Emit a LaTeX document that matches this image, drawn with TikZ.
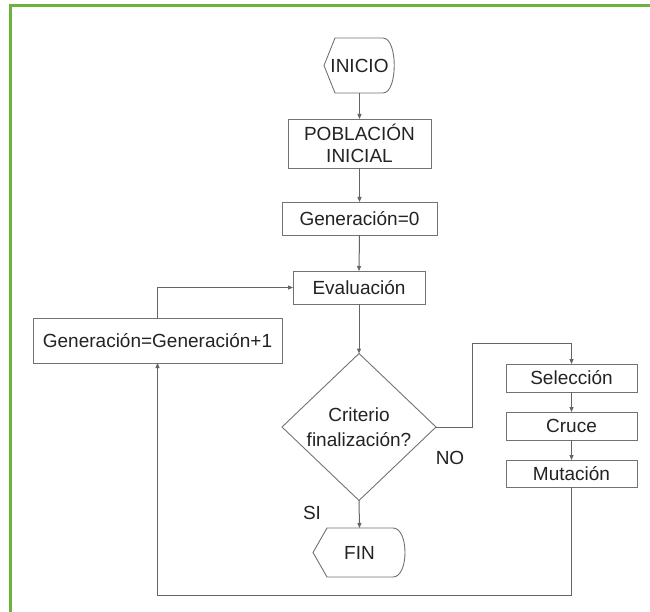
\documentclass[tikz,border=0pt]{standalone}
\usepackage{fontspec}
\setmainfont{Liberation Sans}
\usetikzlibrary{shapes.geometric,arrows.meta}

\definecolor{framegreen}{RGB}{108,178,62}
\definecolor{linegray}{RGB}{100,100,100}
\definecolor{boxgray}{RGB}{115,115,115}
\definecolor{textdark}{RGB}{35,35,35}

\tikzset{
  every node/.style={font=\fontsize{19}{22}\selectfont, text=textdark},
  procbox/.style={draw=boxgray, line width=0.9pt, rectangle, inner sep=0pt, outer sep=0pt, align=center},
  terminal/.style={inner sep=0pt, outer sep=0pt},
  shapeline/.style={draw=boxgray, line width=0.9pt},
  decision/.style={draw=boxgray, line width=0.9pt, diamond, inner sep=0pt, outer sep=0pt,
    minimum width=154pt, minimum height=147pt, aspect=1.05, align=center,
    font=\fontsize{19}{25}\selectfont},
  flow/.style={draw=linegray, line width=1pt, -{Triangle[length=5pt,width=4pt]}},
  lbl/.style={inner sep=0pt}
}

\begin{document}
\begin{tikzpicture}[x=1pt,y=-1pt]
  \useasboundingbox (0,0) rectangle (650,612);
  \fill[white] (0,0) rectangle (650,612);

  % outer frame (top and left edges)
  \draw[framegreen, line width=2.2pt] (10.5,612) -- (10.5,5.5) -- (650,5.5);

  % start / end terminals
  \node[terminal, minimum width=71pt, minimum height=55pt] (inicio) at (359.5,65.5) {INICIO};
  \draw[shapeline] (inicio.west) -- ([xshift=11pt]inicio.north west)
    -- ([xshift=-12pt]inicio.north east)
    .. controls ([xshift=3pt]inicio.north east) and ([xshift=3pt]inicio.south east) .. ([xshift=-12pt]inicio.south east)
    -- ([xshift=11pt]inicio.south west) -- cycle;

  \node[terminal, minimum width=93pt, minimum height=49pt] (fin) at (359.5,552.5) {FIN};
  \draw[shapeline] (fin.west) -- ([xshift=14pt]fin.north west)
    -- ([xshift=-13pt]fin.north east)
    .. controls ([xshift=3pt]fin.north east) and ([xshift=3pt]fin.south east) .. ([xshift=-13pt]fin.south east)
    -- ([xshift=14pt]fin.south west) -- cycle;

  % process boxes
  \node[procbox, minimum width=143pt, minimum height=49pt] (pob) at (359.5,143.5) {POBLACIÓN\\INICIAL};
  \node[procbox, minimum width=155pt, minimum height=33pt] (gen0) at (359.5,218.5) {Generación=0};
  \node[procbox, minimum width=132pt, minimum height=33pt] (eval) at (359,287.5) {Evaluación};
  \node[procbox, minimum width=249pt, minimum height=45pt] (genplus) at (157.5,340.5) {Generación=Generación+1};

  \node[decision] (dec) at (359,427) {Criterio\\finalización?};

  \node[procbox, minimum width=131pt, minimum height=28pt] (sel) at (571.5,378) {Selección};
  \node[procbox, minimum width=131pt, minimum height=28pt] (cruce) at (571.5,426) {Cruce};
  \node[procbox, minimum width=131pt, minimum height=27pt] (mut) at (571.5,473.5) {Mutación};

  % branch labels
  \node[lbl] (si) at (312,513) {SI};
  \node[lbl] (no) at (450,458) {NO};

  % routing points
  \coordinate (njog) at (472,343);
  \coordinate (bot) at (0,595);

  % connectors
  \draw[flow] (inicio.south) -- (pob.north);
  \draw[flow] (pob.south) -- (gen0.north);
  \draw[flow] (gen0.south) -- (eval.north);
  \draw[flow] (eval.south) -- (dec.north);
  \draw[flow] (dec.south) -- (fin.north);
  \draw[flow] (dec.east) -| (njog) -| (sel.north);
  \draw[flow] (sel.south) -- (cruce.north);
  \draw[flow] (cruce.south) -- (mut.north);
  \draw[flow] (mut.south) -- (mut.south |- bot) -- (genplus.south |- bot) -- (genplus.south);
  \draw[flow] (genplus.north) |- (eval.west);
\end{tikzpicture}
\end{document}
